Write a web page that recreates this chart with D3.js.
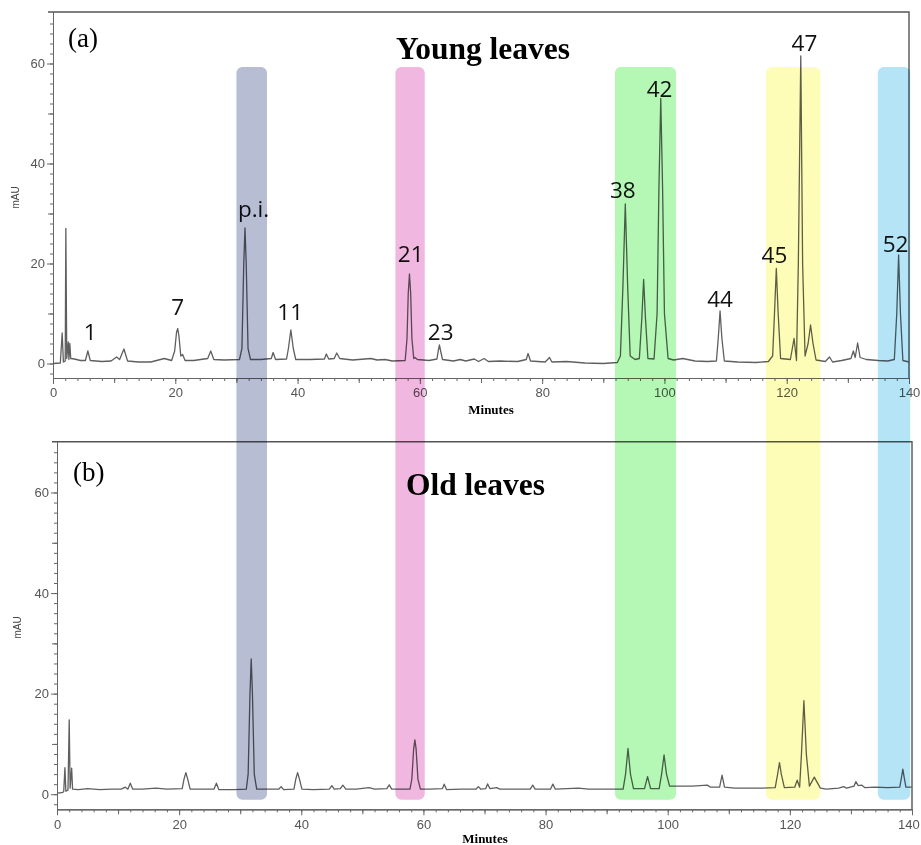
<!DOCTYPE html>
<html>
<head>
<meta charset="utf-8">
<script src="https://cdn.jsdelivr.net/npm/d3@7"></script>
<style>
  body { margin: 0; background: #fff; }
  .band { mix-blend-mode: multiply; }
  .tick text { font-family: "Liberation Sans", Arial, sans-serif; font-size: 13px; fill: #555; }
</style>
</head>
<body>
<div id="chart"></div>
<script>
// chromatogram: [minutes, mAU]
const youngTrace = [
  [0, 0.0], [1.2, 0.1], [1.5, 6.1], [1.7, 0.3], [2.0, 0.5], [2.1, 27], [2.25, 1.0], [2.5, 4.3], [2.6, 0.8],
  [2.75, 4.0], [2.9, 1.0], [3.5, 0.9], [4.5, 0.6], [5.3, 0.6], [5.7, 2.5], [6.1, 0.6], [8, 0.4], [9.5, 0.5],
  [10.4, 1.3], [10.9, 0.8], [11.6, 2.9], [12.2, 0.5], [14, 0.3], [16, 0.3], [18.2, 1.0], [19.4, 0.6],
  [19.9, 2.5], [20.2, 6.2], [20.4, 7.0], [20.6, 5.5], [20.9, 1.5], [21.2, 1.8], [21.6, 0.6], [23, 0.6],
  [25.3, 1.0], [25.8, 2.5], [26.3, 0.8], [28, 0.7], [30.5, 0.8], [30.9, 3], [31.2, 20], [31.4, 27.1],
  [31.6, 20], [31.9, 3], [32.3, 0.8], [34, 0.8], [35.7, 1.0], [36.0, 2.2], [36.4, 0.8], [38.2, 0.9],
  [38.5, 3], [38.9, 6.7], [39.3, 3], [39.7, 0.8], [42, 0.8], [44.4, 0.9], [44.7, 1.9], [45.1, 0.9],
  [46.0, 1.0], [46.4, 2.1], [46.9, 1.0], [49, 0.7], [52, 1.0], [53, 0.7], [54.3, 0.8], [55.5, 0.5],
  [57.6, 0.6], [57.9, 5], [58.1, 14], [58.3, 17.9], [58.5, 14], [58.7, 5], [59.0, 1.0], [59.2, 1.2],
  [59.6, 0.8], [61.5, 0.6], [62.8, 0.9], [63.0, 2.5], [63.2, 3.7], [63.4, 2.5], [63.7, 0.8], [65.5, 0.5],
  [66.6, 0.8], [67.5, 0.5], [68.9, 0.9], [69.6, 0.4], [70.5, 1.0], [71.2, 0.4], [73.1, 0.5], [76, 0.4],
  [77.4, 0.8], [77.7, 2.0], [78.1, 0.5], [80.5, 0.3], [81.2, 1.2], [81.6, 0.3], [84, 0.4], [87, 0.1],
  [90, 0.0], [92.3, 0.2], [92.8, 1.5], [93.2, 15], [93.6, 31.9], [94.0, 15], [94.4, 1.5], [95.2, 0.8],
  [95.9, 1.0], [96.3, 9], [96.6, 16.8], [96.9, 9], [97.3, 1.0], [98.3, 0.9], [98.8, 10], [99.1, 35],
  [99.4, 53], [99.7, 35], [100.0, 10], [100.6, 1.0], [101.5, 0.7], [103, 1.0], [105, 0.5], [107, 0.4],
  [108.5, 0.5], [108.8, 5], [109.1, 10.5], [109.4, 5], [109.8, 0.5], [112, 0.3], [115, 0.2], [117, 0.4],
  [117.7, 1.5], [118.0, 10], [118.3, 19.0], [118.6, 10], [119.0, 1.0], [120.6, 0.8], [121.2, 5.0],
  [121.6, 0.6], [121.9, 20], [122.3, 61.5], [122.6, 20], [123.0, 1.5], [123.5, 4], [123.9, 7.7],
  [124.3, 4], [124.8, 0.7], [126.3, 0.4], [127, 1.3], [127.5, 0.3], [129, 0.6], [130.5, 1.0],
  [130.9, 2.5], [131.2, 1.2], [131.6, 4.1], [132.0, 1.2], [133, 0.8], [135, 0.6], [136.5, 0.5],
  [137.6, 0.8], [138.0, 10], [138.3, 21.7], [138.6, 10], [139.0, 0.6], [140, 0.3]
];

const oldTrace = [
  [0, 0.2], [0.8, 0.3], [1.1, 0.5], [1.3, 5.3], [1.45, 0.6], [1.8, 0.8], [2.0, 14.8], [2.15, 1.2],
  [2.4, 5.2], [2.55, 1.0], [3.5, 0.9], [5, 1.1], [7, 0.9], [9, 1.0], [10.5, 1.0], [11.2, 1.4], [11.6, 1.0],
  [12.0, 2.2], [12.4, 1.0], [14, 1.0], [16.2, 1.2], [18, 1.0], [20.5, 1.1], [20.8, 3], [21.1, 4.3],
  [21.4, 3], [21.8, 1.0], [24, 1.0], [25.7, 1.0], [26.1, 2.2], [26.5, 0.9], [29, 0.9], [31.0, 1.0],
  [31.3, 4], [31.6, 20], [31.8, 26.9], [32.0, 20], [32.3, 4], [32.7, 1.0], [34, 1.0], [36.3, 1.0],
  [36.7, 1.5], [37.1, 0.9], [38.8, 1.0], [39.1, 3], [39.4, 4.3], [39.7, 3], [40.1, 1.0], [42, 0.9],
  [44.6, 1.0], [45.0, 1.7], [45.4, 1.0], [46.4, 1.1], [46.8, 1.8], [47.3, 1.0], [49, 1.0], [51.1, 1.3],
  [52, 1.0], [54.0, 1.1], [54.4, 1.85], [54.8, 1.0], [57.8, 1.0], [58.1, 3], [58.4, 9], [58.6, 10.8],
  [58.8, 9], [59.1, 3], [59.5, 1.0], [61, 1.0], [63.1, 1.1], [63.4, 2.0], [63.8, 0.9], [66, 1.0],
  [68.6, 1.0], [69.0, 1.5], [69.4, 1.0], [70.2, 1.1], [70.5, 2.05], [70.9, 1.1], [72, 1.3], [72.5, 1.0],
  [75, 1.0], [77.5, 1.0], [77.9, 1.8], [78.3, 1.0], [80.8, 1.0], [81.2, 2.0], [81.6, 1.0], [85.4, 1.2],
  [87, 1.0], [90, 1.0], [92.7, 1.0], [93.1, 4], [93.5, 9.1], [93.9, 4], [94.4, 1.1], [96.2, 1.1],
  [96.7, 3.5], [97.2, 1.1], [98.6, 1.1], [99.0, 4], [99.4, 7.8], [99.8, 4], [100.3, 1.6], [102, 1.6],
  [104, 1.6], [106.5, 1.8], [107, 1.4], [108.5, 1.4], [108.9, 3.8], [109.3, 1.4], [111, 1.2], [115, 1.2],
  [117.6, 1.3], [118.0, 4], [118.3, 6.3], [118.6, 4], [119.1, 1.3], [120.8, 1.4], [121.2, 2.8],
  [121.6, 1.4], [121.9, 8], [122.3, 18.6], [122.7, 8], [123.2, 1.6], [123.6, 2.5], [124.0, 3.4],
  [124.4, 2.5], [125, 1.2], [126, 1.0], [128, 1.2], [128.8, 1.5], [129.3, 1.2], [130.5, 1.6],
  [130.8, 2.5], [131.2, 1.7], [131.8, 1.8], [132.3, 1.3], [134, 1.4], [136, 1.3], [138.0, 1.4],
  [138.3, 3.5], [138.5, 5.0], [138.7, 3.5], [139.0, 1.4], [140, 1.4]
];

// peak labels in the young leaves panel (text, minutes, mAU of label baseline)
const peakNames = ["1", "7", "p.i.", "11", "21", "23", "38", "42", "44", "45", "47", "52"];
const peakTimes = [6.1, 20.4, 32.8, 38.8, 58.5, 63.4, 93.2, 99.2, 109.1, 118.0, 122.9, 137.8];
const peakLabelMAU = [4.7, 9.7, 29.3, 8.7, 20.3, 4.7, 33.1, 53.3, 11.3, 20.1, 62.5, 22.3];

// highlighted retention windows (minutes)
const bandStart = [30.0, 56.0, 91.9, 116.6, 134.9];
const bandEnd = [35.0, 60.8, 101.9, 125.5, 140.2];
const bandColors = ["#b7bed4", "#f0b8e0", "#b5f8b5", "#fdfdb8", "#b4e4f6"];

const majorTicks = [0, 20, 40, 60];
const xMajorTicks = [0, 20, 40, 60, 80, 100, 120, 140];

const W = 921, H = 845;

const svg = d3.select("#chart").append("svg")
    .attr("width", W)
    .attr("height", H);

const panels = [
  {trace: youngTrace, x: [53, 909], y: [378, 12], yDom: [-2.9, 70.3], letter: "(a)", lx: 68, ly: 47,
   title: "Young leaves", tx: 483, ty: 59, mauX: 15, minutesX: 491, minutesY: 414},
  {trace: oldTrace, x: [57, 912], y: [809.3, 441.7], yDom: [-3, 70.1], letter: "(b)", lx: 73, ly: 481,
   title: "Old leaves", tx: 475.5, ty: 495, mauX: 17, minutesX: 485, minutesY: 843}
];

const scales = [];

panels.forEach(function(p, pi) {
  const x = d3.scaleLinear().domain([0, 140]).range(p.x);
  const y = d3.scaleLinear().domain(p.yDom).range(p.y);
  scales.push({x: x, y: y});
  const g = svg.append("g");

  // frame (top + right)
  g.append("path")
    .attr("d", "M" + (p.x[0] - 5) + "," + p.y[1] + "H" + p.x[1] + "V" + p.y[0])
    .attr("fill", "none")
    .attr("stroke", "#555")
    .attr("stroke-width", 1.4);

  // y axis: minor / mid / major ticks
  const yMinor = d3.range(-2, 70, 2);
  g.append("g").attr("transform", "translate(" + p.x[0] + ",0)")
    .call(d3.axisLeft(y).tickValues(yMinor).tickSize(3).tickSizeOuter(0).tickFormat(""));
  g.append("g").attr("transform", "translate(" + p.x[0] + ",0)")
    .call(d3.axisLeft(y).tickValues([10, 30, 50]).tickSize(5).tickSizeOuter(0).tickFormat(""));
  g.append("g").attr("transform", "translate(" + p.x[0] + ",0)")
    .call(d3.axisLeft(y).tickValues(majorTicks).tickSize(6).tickPadding(2).tickSizeOuter(0));

  // x axis
  const xMinor = d3.range(0, 141, 2);
  const xy = p.y[0];
  g.append("g").attr("transform", "translate(0," + xy + ")")
    .call(d3.axisBottom(x).tickValues(xMinor).tickSize(3).tickSizeOuter(0).tickFormat(""));
  g.append("g").attr("transform", "translate(0," + xy + ")")
    .call(d3.axisBottom(x).tickValues([10, 30, 50, 70, 90, 110, 130]).tickSize(5).tickSizeOuter(0).tickFormat(""));
  const xAx = g.append("g").attr("transform", "translate(0," + xy + ")")
    .call(d3.axisBottom(x).tickValues(xMajorTicks).tickSize(6).tickPadding(4).tickSizeOuter(0));
  // last label of the lower panel sits right on the page edge
  if (pi === 1) {
    xAx.selectAll(".tick text").filter(function(d) { return d === 140; })
      .attr("text-anchor", "end").attr("dx", "0.55em");
  }

  g.selectAll(".domain").attr("stroke", "#666");
  g.selectAll(".tick line").attr("stroke", "#666");

  // mAU label
  const midY = (y(0) + y(60)) / 2 - 16;
  g.append("text")
    .attr("transform", "translate(" + (p.mauX + 4) + "," + midY + ") rotate(-90)")
    .attr("text-anchor", "middle")
    .style("font-family", "Liberation Sans, Arial, sans-serif")
    .style("font-size", "10px")
    .style("fill", "#444")
    .text("mAU");

  // Minutes
  g.append("text")
    .attr("x", p.minutesX).attr("y", p.minutesY)
    .attr("text-anchor", "middle")
    .style("font-family", "Liberation Serif, Times New Roman, serif")
    .style("font-weight", "bold")
    .style("font-size", "13px")
    .text("Minutes");

  // trace
  const line = d3.line()
    .x(function(d) { return x(d[0]); })
    .y(function(d) { return y(d[1]); });
  g.append("path")
    .datum(p.trace)
    .attr("fill", "none")
    .attr("stroke", "#5f5f5f")
    .attr("stroke-width", 1.3)
    .attr("stroke-linejoin", "round")
    .attr("d", line);

  // panel letter + title
  g.append("text")
    .attr("x", p.lx).attr("y", p.ly)
    .style("font-family", "Liberation Serif, Times New Roman, serif")
    .style("font-size", "27px")
    .text(p.letter);
  g.append("text")
    .attr("x", p.tx).attr("y", p.ty)
    .attr("text-anchor", "middle")
    .style("font-family", "Liberation Serif, Times New Roman, serif")
    .style("font-weight", "bold")
    .style("font-size", "31.5px")
    .text(p.title);
});

// peak numbers on the top panel
const topPanel = scales[0];
svg.append("g").selectAll("text")
  .data(peakNames)
  .enter()
  .append("text")
  .attr("x", function(d, i) { return topPanel.x(peakTimes[i]); })
  .attr("y", function(d, i) { return topPanel.y(peakLabelMAU[i]); })
  .attr("text-anchor", "middle")
  .style("font-family", "Open Sans, sans-serif")
  .style("font-size", "22.5px")
  .style("fill", "#111")
  .text(function(d) { return d; });

// coloured windows running through both panels
const bandTop = topPanel.y(59.3);
const bandBottom = scales[1].y(-1.1);
svg.append("g").selectAll("rect")
  .data(bandStart)
  .enter()
  .append("rect")
  .attr("class", "band")
  .attr("x", function(d) { return topPanel.x(d); })
  .attr("width", function(d, i) { return topPanel.x(bandEnd[i]) - topPanel.x(d); })
  .attr("y", bandTop)
  .attr("height", bandBottom - bandTop)
  .attr("rx", 6)
  .attr("fill", function(d, i) { return bandColors[i]; });
</script>
</body>
</html>
